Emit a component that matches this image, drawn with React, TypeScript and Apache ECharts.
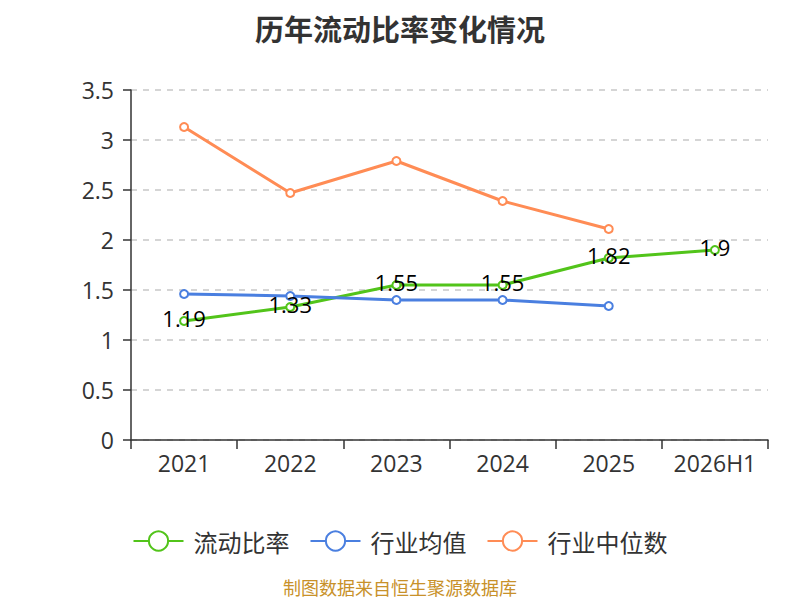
import React, { useEffect, useRef } from 'react';
import * as echarts from 'echarts';

const categories = ['2021', '2022', '2023', '2024', '2025', '2026H1'];
const currentRatio = [1.19, 1.33, 1.55, 1.55, 1.82, 1.9];
const industryAvg = [1.46, 1.44, 1.4, 1.4, 1.34, null];
const industryMedian = [3.13, 2.47, 2.79, 2.39, 2.11, null];

const FONT = '"Open Sans", "Noto Sans CJK SC", sans-serif';
const CJK = '"Noto Sans CJK SC", sans-serif';

function App() {
  const chartRef = useRef(null);

  useEffect(() => {
    const chart = echarts.init(chartRef.current, null, { renderer: 'svg' });

    const lineSeries = (name: string, data: any[], color: string, withLabel: boolean) => ({
      name,
      type: 'line',
      data,
      symbol: 'emptyCircle',
      symbolSize: 8,
      lineStyle: { color, width: 3 },
      itemStyle: { color, borderWidth: 1.5 },
      label: withLabel
        ? {
            show: true,
            position: 'inside',
            offset: [0, -3],
            color: '#000',
            fontSize: 22,
            fontFamily: FONT,
          }
        : { show: false },
    });

    chart.setOption({
      animation: false,
      textStyle: { fontFamily: FONT },
      title: {
        text: '历年流动比率变化情况',
        left: 'center',
        top: 0,
        textStyle: { fontSize: 29, fontWeight: 'bold', color: '#333', fontFamily: CJK },
      },
      grid: { left: 123, right: 24, top: 82, bottom: 160 },
      legend: {
        top: 516,
        itemWidth: 50,
        itemHeight: 24,
        itemGap: 20,
        textStyle: { fontSize: 24, color: '#333', fontFamily: CJK, padding: [0, 0, 0, 5] },
        data: ['流动比率', '行业均值', '行业中位数'],
      },
      graphic: [
        {
          type: 'text',
          left: 'center',
          top: 570,
          style: { text: '制图数据来自恒生聚源数据库', fill: '#c8912a', fontSize: 18, fontFamily: CJK },
        },
      ],
      xAxis: {
        type: 'category',
        data: categories,
        boundaryGap: true,
        axisLine: { lineStyle: { color: '#333', width: 1.5 } },
        axisTick: { show: true, interval: 0, length: 9, lineStyle: { color: '#333', width: 1.5 } },
        axisLabel: { interval: 0, fontSize: 23, color: '#333', margin: 11, fontFamily: FONT },
      },
      yAxis: {
        type: 'value',
        min: 0,
        max: 3.5,
        interval: 0.5,
        axisLine: { show: true, lineStyle: { color: '#333', width: 1.5 } },
        axisTick: { show: true, length: 8, lineStyle: { color: '#333', width: 1.5 } },
        axisLabel: { fontSize: 23, color: '#333', margin: 17, fontFamily: FONT },
        splitLine: { lineStyle: { type: [6, 6], color: '#c8c8c8', width: 1.5 } },
      },
      series: [
        lineSeries('流动比率', currentRatio, '#52c41a', true),
        lineSeries('行业均值', industryAvg, '#4a7fe0', false),
        lineSeries('行业中位数', industryMedian, '#ff8c55', false),
      ],
    });

    return () => {
      chart.dispose();
    };
  }, []);

  return <div ref={chartRef} style={{ width: '784px', height: '592px' }}></div>;
}

export default App;
